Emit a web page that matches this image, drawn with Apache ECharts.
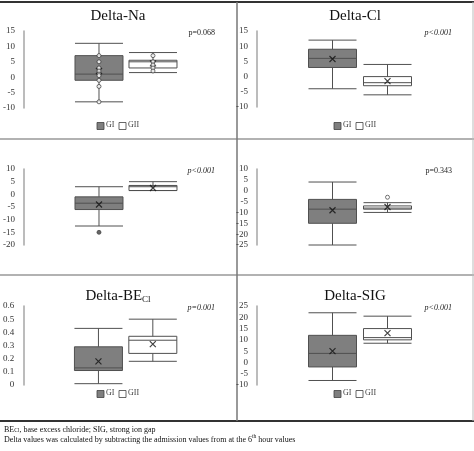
<!DOCTYPE html>
<html><head><meta charset="utf-8">
<script src="https://cdn.jsdelivr.net/npm/echarts@6/dist/echarts.min.js"></script>
<style>html,body{margin:0;padding:0;background:#fff}#c{width:474px;height:451px}</style>
</head><body><div id="c"></div>
<script>
const panelTitles = ['Delta-Na','Delta-Cl','Delta-BE','Delta-SIG','Delta-pH','Delta-PaCO'];
const titleSubs = ['','','Cl','','','2'];
const pValues = ['p=0.068','p<0.001','p<0.001','p=0.343','p=0.001','p<0.001'];
const pItalic = [false,true,true,false,true,true];
// [min, Q1, median, Q3, max]
const boxGI = [[-8,-1,1,7,11],[-4,3,6,9,12],[-12.5,-6,-3.5,-1,3],[-25,-15,-8.5,-4,4],[0.01,0.11,0.13,0.29,0.43],[-8,-2,4,12,22]];
const boxGII = [[1.5,3,5,5.5,8],[-6,-3,-2,0,4],[1.5,1.5,3,3.5,5],[-10,-8.5,-8,-7,-5.5],[0.18,0.24,0.34,0.37,0.5],[8.5,10,11,15,20.5]];
const meanGI = [2,5.8,-4,-9,0.18,5];
const meanGII = [4.5,-1.5,2.5,-7.5,0.31,13];
const pointsGI = [[7,5,3,2,1,0.5,-1,-3,-8],[],[],[],[],[]];
const pointsGII = [[7,5,4,3,2],[],[],[],[],[]];
const outliersGI = [[],[],[-15],[],[],[]];
const outliersGII = [[],[],[],[-3],[],[]];
const yMin = [-10,-10,-20,-25,0,-10];
const yMax = [15,15,10,10,0.6,25];
const yInterval = [5,5,5,5,0.1,5];
const cats = ['GI','GII'];

const font = 'Liberation Serif';
const panelX = [0,237,0,237,0,237];
const panelY = [0,0,140,140,270,270];
const gridTop = [31,31,29,29,36,36];
const gridH = [77,76,76,76,79,79];
const legendY = [126,126,254,254,403,403];
const titleY = [15,15,155,155,291,291];

const grids=[],xAxes=[],yAxes=[],series=[],graphics=[];
const xMark = 'path://M0,0L10,10M10,0L0,10';
for(let i=0;i<6;i++){
  const px=panelX[i], py=panelY[i], ax = px + (i%2? 20:22);
  grids.push({left:ax+48, top:py+gridTop[i], width:110, height:gridH[i]});
  xAxes.push({type:'category',gridIndex:i,data:cats,show:false});
  yAxes.push({type:'value',gridIndex:i,min:yMin[i],max:yMax[i],interval:yInterval[i],offset:48,
    axisLine:{show:true,lineStyle:{color:'#a6a6a6',width:1.5}},axisTick:{show:false},splitLine:{show:false},
    axisLabel:{fontFamily:font,fontSize:9,color:'#333',margin:9}});
  series.push({type:'boxplot',xAxisIndex:i,yAxisIndex:i,boxWidth:[48,48],
    data:[{value:boxGI[i],itemStyle:{color:'#7f7f7f',borderColor:'#505050',borderWidth:1}},
          {value:boxGII[i],itemStyle:{color:'#fff',borderColor:'#505050',borderWidth:1}}]});
  series.push({type:'scatter',xAxisIndex:i,yAxisIndex:i,symbol:xMark,symbolSize:6,
    itemStyle:{color:'none',borderColor:'#111',borderWidth:1.2},
    data:[['GI',meanGI[i]],['GII',meanGII[i]]]});
  const pts=[];
  pointsGI[i].forEach(v=>pts.push(['GI',v]));
  pointsGII[i].forEach(v=>pts.push(['GII',v]));
  series.push({type:'scatter',xAxisIndex:i,yAxisIndex:i,symbol:'circle',symbolSize:4,
    itemStyle:{color:'#fff',borderColor:'#333',borderWidth:0.9},data:pts});
  const outs=[];
  outliersGI[i].forEach(v=>outs.push(['GI',v]));
  outliersGII[i].forEach(v=>outs.push(['GII',v]));
  series.push({type:'scatter',xAxisIndex:i,yAxisIndex:i,symbol:'circle',symbolSize:4,
    itemStyle:{color:i===3?'#fff':'#404040',borderColor:'#404040',borderWidth:0.9},data:outs});
  // title
  graphics.push({type:'text',x:px+118,y:py+titleY[i],z:10,style:{
    text:titleSubs[i]?'{a|'+panelTitles[i]+'}{b|'+titleSubs[i]+'}':'{a|'+panelTitles[i]+'}',
    align:'center',verticalAlign:'middle',
    rich:{a:{fontFamily:font,fontSize:15,fill:'#111',verticalAlign:'bottom',lineHeight:18},
          b:{fontFamily:font,fontSize:9,fill:'#111',verticalAlign:'bottom',lineHeight:12}}}});
  graphics.push({type:'text',x:px+215,y:py+gridTop[i]-2,style:{text:pValues[i],fontFamily:font,fontSize:8,
    fontStyle:pItalic[i]?'italic':'normal',fill:'#222',align:'right'}});
  // legend
  const lx=px+97;
  graphics.push({type:'rect',shape:{x:lx,y:py+legendY[i]-3.5,width:7,height:7},style:{fill:'#7f7f7f',stroke:'#404040',lineWidth:0.8}});
  graphics.push({type:'text',x:lx+9,y:py+legendY[i]-5,style:{text:'GI',fontFamily:font,fontSize:8,fill:'#404040'}});
  graphics.push({type:'rect',shape:{x:lx+22,y:py+legendY[i]-3.5,width:7,height:7},style:{fill:'#fff',stroke:'#404040',lineWidth:0.8}});
  graphics.push({type:'text',x:lx+31,y:py+legendY[i]-5,style:{text:'GII',fontFamily:font,fontSize:8,fill:'#404040'}});
}
// table lines
function line(x1,y1,x2,y2,c,w){graphics.push({type:'line',shape:{x1,y1,x2,y2},style:{stroke:c,lineWidth:w}});}
line(0,2,474,2,'#333',2);
line(0,139,474,139,'#999',1.5);
line(0,275,474,275,'#999',1.5);
line(0,421,474,421,'#333',2);
line(237,2,237,421,'#777',1.5);
line(473,2,473,421,'#bbb',1);
graphics.push({type:'text',x:4,y:424,style:{text:'{a|BE}{b|Cl}{a|, base excess chloride; SIG, strong ion gap}',
  rich:{a:{fontFamily:font,fontSize:8,fill:'#111',verticalAlign:'bottom',lineHeight:10},b:{fontFamily:font,fontSize:5.5,fill:'#111',verticalAlign:'bottom',lineHeight:7}}}});
graphics.push({type:'text',x:4,y:434,style:{text:'{a|Delta values was calculated by subtracting the admission values from at the 6}{b|th}{a| hour values}',
  rich:{a:{fontFamily:font,fontSize:8,fill:'#111',verticalAlign:'bottom',lineHeight:10},b:{fontFamily:font,fontSize:5.5,fill:'#111',verticalAlign:'top',lineHeight:7}}}});

const chart=echarts.init(document.getElementById('c'));
chart.setOption({backgroundColor:'#fff',animation:false,grid:grids,xAxis:xAxes,yAxis:yAxes,series,graphic:graphics});
</script></body></html>
